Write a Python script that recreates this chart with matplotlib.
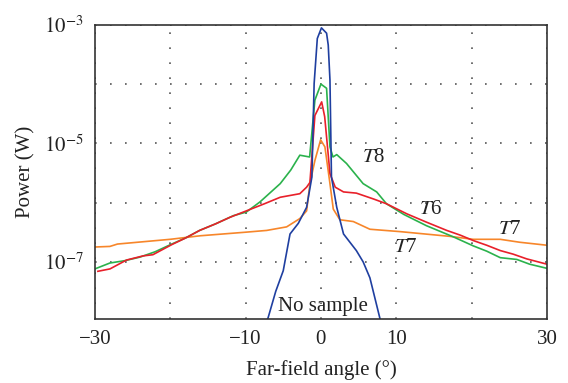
import numpy as np
import matplotlib
matplotlib.use('Agg')
import matplotlib.pyplot as plt

plt.rcParams['font.family'] = 'Liberation Serif'
plt.rcParams['mathtext.fontset'] = 'stix'

# angle (deg) and log10 power (W)
blue_x = [-9.0, -7.0, -6.0, -5.0, -4.1, -3.0, -1.9, -1.2, -0.9, -0.48, 0.07, 0.75, 0.97, 1.2, 1.4, 2.1, 3.0, 4.7, 5.6, 6.5, 7.8, 9.0]
blue_y = [-8.6, -7.94, -7.5, -7.15, -6.53, -6.35, -6.08, -5.57, -3.99, -3.23, -3.05, -3.14, -3.34, -3.93, -5.57, -6.08, -6.53, -6.81, -7.0, -7.27, -7.94, -8.6]

green_x = [-30, -28, -26, -24, -22, -19.8, -18, -16.1, -14, -11.6, -9.9, -8.1, -5.4, -4, -2.8, -1.5, -0.8, 0, 0.75, 1.2, 1.6, 2.1, 3.4, 5.6, 7.4, 8.7, 11, 14.0, 17.6, 20.2, 22, 23.8, 26, 27.7, 30]
green_y = [-7.12, -7.02, -6.98, -6.92, -6.83, -6.70, -6.60, -6.47, -6.36, -6.22, -6.16, -5.99, -5.68, -5.45, -5.20, -5.23, -4.27, -4.0, -4.07, -5.06, -5.23, -5.19, -5.34, -5.68, -5.82, -6.02, -6.20, -6.39, -6.58, -6.73, -6.82, -6.93, -6.96, -7.04, -7.11]

red_x = [-29.6, -28, -25.8, -23.6, -22.3, -19.8, -18, -16.1, -14, -12.1, -9.9, -7.5, -5.4, -4.1, -2.8, -1.9, -1.46, -0.8, 0.1, 0.5, 1.2, 1.9, 3.0, 4.7, 7.0, 8.7, 11.4, 14, 16.7, 18.5, 20.2, 22, 23.8, 25.5, 27.3, 30]
red_y = [-7.16, -7.12, -6.97, -6.90, -6.88, -6.71, -6.60, -6.47, -6.36, -6.25, -6.14, -6.02, -5.91, -5.88, -5.85, -5.74, -5.66, -4.53, -4.30, -4.55, -5.51, -5.74, -5.82, -5.84, -5.94, -6.02, -6.19, -6.33, -6.47, -6.55, -6.64, -6.72, -6.81, -6.87, -6.95, -7.04]

orange_x = [-30, -28, -27, -20, -16, -10, -7.2, -4.55, -2.8, -1.9, -1.46, -0.8, -0.04, 0.53, 1.2, 1.64, 2.52, 4.3, 6.5, 10.5, 17.1, 20.2, 23.8, 26.4, 30]
orange_y = [-6.75, -6.74, -6.70, -6.62, -6.56, -6.50, -6.47, -6.41, -6.27, -6.14, -5.68, -5.29, -4.94, -5.06, -5.68, -6.11, -6.29, -6.32, -6.45, -6.49, -6.57, -6.62, -6.62, -6.67, -6.72]

labels = [r'$T$8', r'$T$6', r'$T$7', r'$T$7', 'No sample']
label_x = [7.0, 14.5, 25.1, 11.2, 0.3]
label_y = [-5.24, -6.11, -6.45, -6.76, -7.75]

fig = plt.figure(figsize=(5.68, 3.83), dpi=100)
ax = fig.add_axes([0.167, 0.167, 0.796, 0.768])

ax.plot(orange_x, 10 ** np.array(orange_y), color='#f7862a', lw=1.2)
ax.plot(green_x, 10 ** np.array(green_y), color='#2bb24c', lw=1.2)
ax.plot(red_x, 10 ** np.array(red_y), color='#e8202a', lw=1.2)
ax.plot(blue_x, 10 ** np.array(blue_y), color='#1f3fa0', lw=1.2)

for t, x, y in zip(labels, label_x, label_y):
    ax.text(x, 10 ** y, t, fontsize=15, ha='center', va='center', color='#222222')

ax.set_yscale('log')
ax.set_xlim(-30, 30)
ax.set_ylim(10 ** -7.966, 1e-3)

ax.set_xticks([-30, -20, -10, 0, 10, 20, 30])
ax.set_xticklabels(['\u221230', '', '\u221210', '0', '10', '', '30'])
ax.set_yticks([1e-7, 1e-6, 1e-5, 1e-4, 1e-3])
ax.set_yticklabels([r'$10^{-7}$', '', r'$10^{-5}$', '', r'$10^{-3}$'])
ax.yaxis.set_minor_locator(matplotlib.ticker.NullLocator())
ax.tick_params(length=0, labelsize=15, colors='#222222', pad=8)

ax.grid(True, linestyle=(0, (1, 8)), color='#555555', lw=1.2)

for s in ax.spines.values():
    s.set_color('#333333')
    s.set_linewidth(1.2)

ax.set_xlabel('Far-field angle (\u00b0)', fontsize=15, color='#222222', labelpad=8)
ax.set_ylabel('Power (W)', fontsize=15, color='#222222', labelpad=6)

fig.savefig('out.png', dpi=100)
